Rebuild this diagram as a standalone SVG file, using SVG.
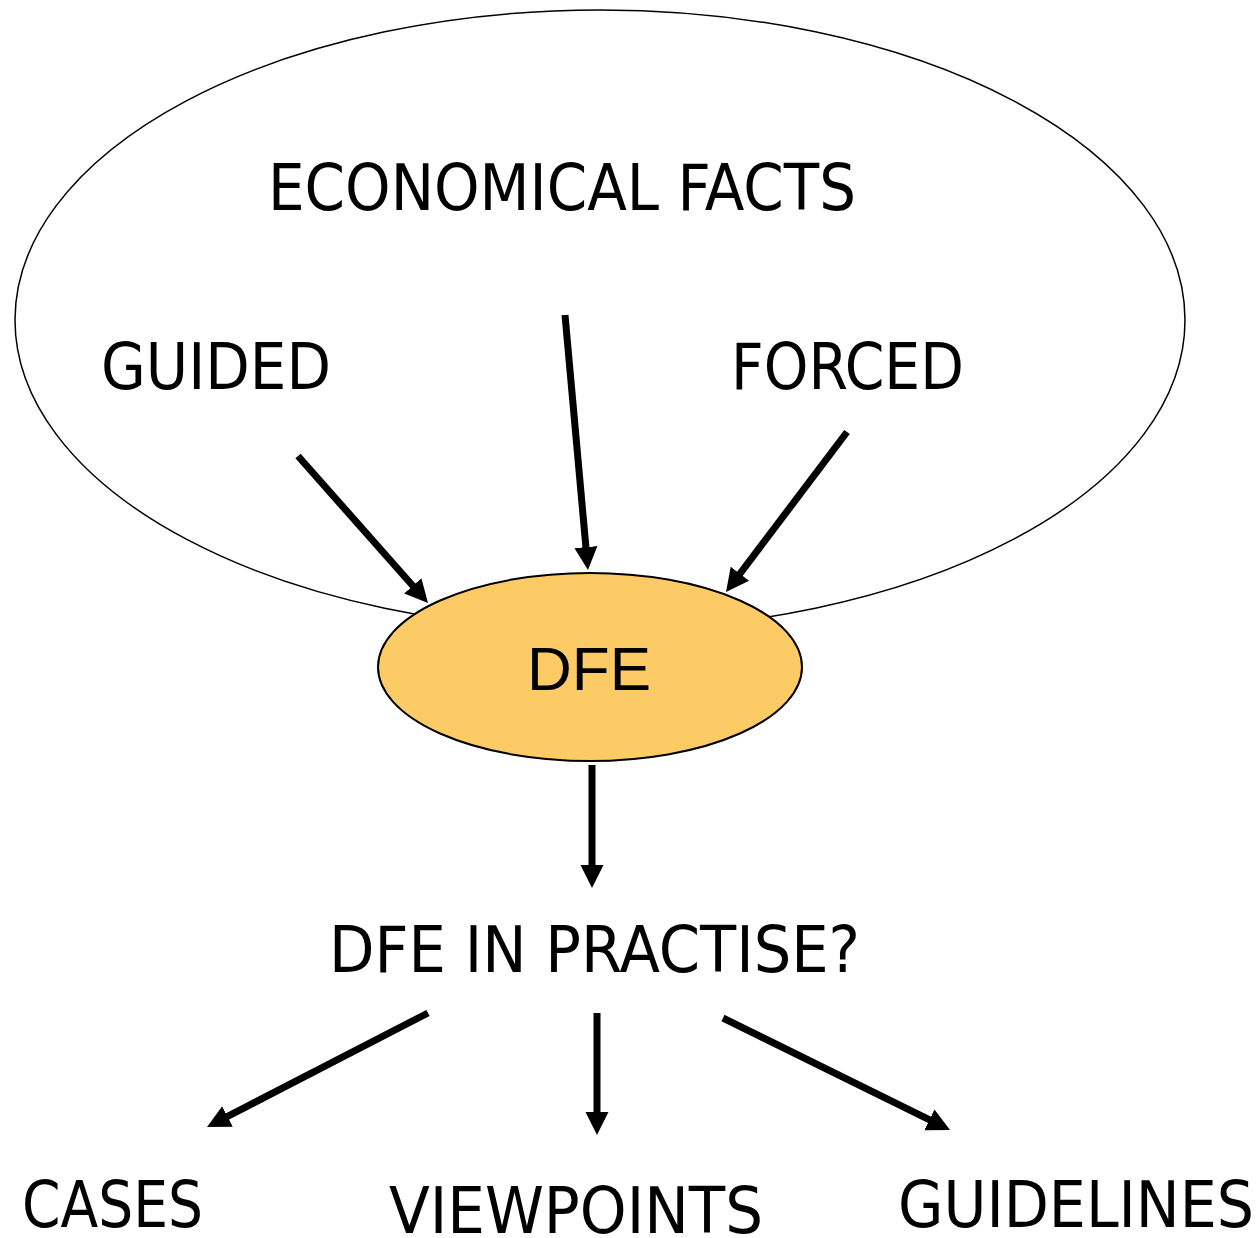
<svg xmlns="http://www.w3.org/2000/svg" width="1260" height="1238" viewBox="0 0 1260 1238">
<defs>
<style>
.lbl{font-family:"DejaVu Sans Condensed","DejaVu Sans",sans-serif;font-size:64px;fill:#000;text-anchor:middle}
.dfe{font-family:"Liberation Sans",Arial,sans-serif;font-size:62px;fill:#000;text-anchor:middle}
.arr{stroke:#000;stroke-width:7;fill:none;marker-end:url(#ah)}
</style>
<marker id="ah" markerUnits="userSpaceOnUse" markerWidth="25" markerHeight="25" viewBox="0 -12.5 25 25" refX="2" refY="0" orient="auto">
<path d="M0,-11.5 L23,0 L0,11.5 z" fill="#000"/>
</marker>
</defs>
<rect width="1260" height="1238" fill="#fff"/>
<g id="context">
<ellipse cx="600" cy="320" rx="585" ry="310" fill="none" stroke="#000" stroke-width="1.5"/>
<text class="lbl" x="562" y="210" textLength="588" lengthAdjust="spacingAndGlyphs">ECONOMICAL FACTS</text>
</g>
<g id="guided"><text class="lbl" x="216" y="389" textLength="230" lengthAdjust="spacingAndGlyphs">GUIDED</text></g>
<g id="forced"><text class="lbl" x="847.5" y="389" textLength="233" lengthAdjust="spacingAndGlyphs">FORCED</text></g>
<g id="connectors">
<line class="arr" x1="298" y1="456" x2="414.1" y2="587.3"/>
<line class="arr" x1="565" y1="315" x2="586.1" y2="549.1"/>
<line class="arr" x1="847" y1="432" x2="738.7" y2="575.3"/>
<line class="arr" x1="592" y1="765" x2="592" y2="867"/>
<line class="arr" x1="428" y1="1013" x2="225.7" y2="1117.4"/>
<line class="arr" x1="597" y1="1013" x2="597" y2="1114"/>
<line class="arr" x1="723" y1="1018" x2="931.2" y2="1120.7"/>
</g>
<g id="dfe">
<ellipse cx="590" cy="667" rx="212" ry="94" fill="#FDCB65" stroke="#000" stroke-width="2"/>
<text class="dfe" x="589" y="690">DFE</text>
</g>
<g id="practise"><text class="lbl" x="594.5" y="972" textLength="531" lengthAdjust="spacingAndGlyphs">DFE IN PRACTISE?</text></g>
<g id="cases"><text class="lbl" x="112.5" y="1227" textLength="181" lengthAdjust="spacingAndGlyphs">CASES</text></g>
<g id="viewpoints"><text class="lbl" x="576" y="1233" textLength="374" lengthAdjust="spacingAndGlyphs">VIEWPOINTS</text></g>
<g id="guidelines"><text class="lbl" x="1076" y="1227" textLength="356" lengthAdjust="spacingAndGlyphs">GUIDELINES</text></g>
</svg>
